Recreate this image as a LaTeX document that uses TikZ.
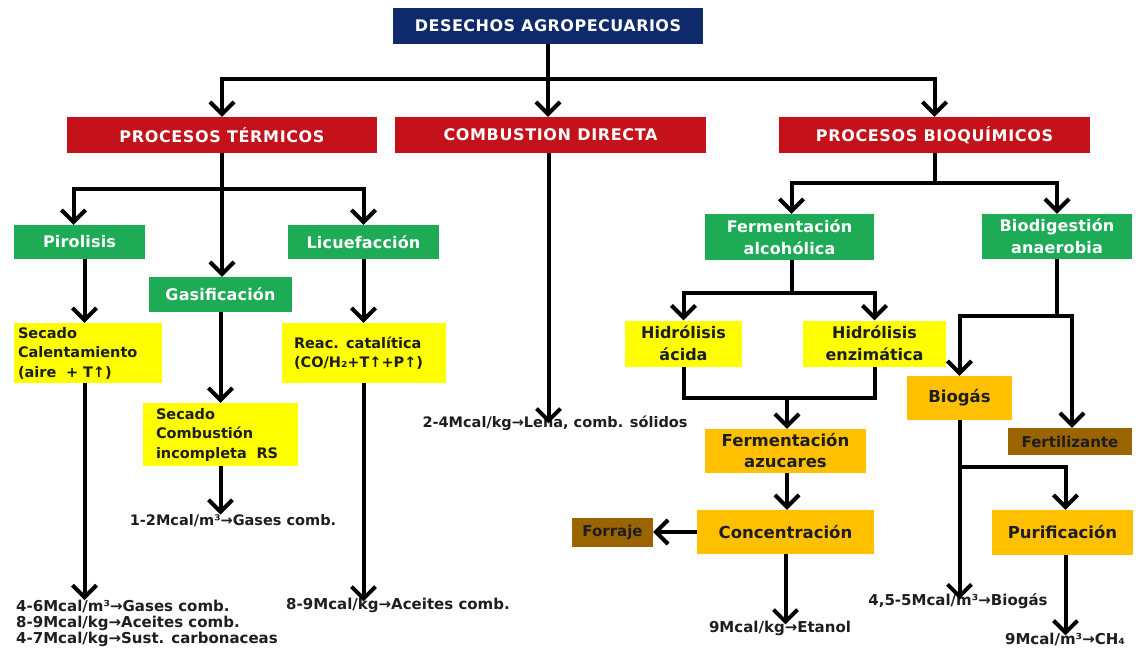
\documentclass[tikz,border=0pt]{standalone}
\usepackage{fontspec}
\setmainfont{DejaVu Sans}
\usetikzlibrary{arrows.meta}
\definecolor{cnavy}{HTML}{0E2A6A}
\definecolor{cred}{HTML}{C4111A}
\definecolor{cgreen}{HTML}{1DAB55}
\definecolor{cyel}{HTML}{FFFF00}
\definecolor{corange}{HTML}{FFC000}
\definecolor{cbrown}{HTML}{9A6400}
\definecolor{ink}{HTML}{1E1E1E}
\tikzset{
  base/.style={inner sep=0pt, align=center},
  navybox/.style={base, fill=cnavy, text=white, font=\bfseries\fontsize{16}{18}\selectfont\addfontfeature{LetterSpace=3}},
  hdrbox/.style={base, fill=cred, text=white, minimum height=36pt, font=\bfseries\fontsize{16}{18}\selectfont\addfontfeature{LetterSpace=4}},
  grn/.style={base, fill=cgreen, text=white, font=\bfseries\fontsize{16}{22}\selectfont\addfontfeature{LetterSpace=1}},
  yel/.style={base, fill=cyel, text=ink, font=\bfseries\fontsize{16}{22}\selectfont},
  yell/.style={base, fill=cyel, text=ink, align=left, font=\bfseries\fontsize{14.5}{19.5}\selectfont},
  org/.style={base, fill=corange, text=ink, font=\bfseries\fontsize{16.5}{21}\selectfont},
  brn/.style={base, fill=cbrown, text=ink, font=\bfseries\fontsize{15}{17}\selectfont},
  val/.style={inner sep=0pt, text=ink, font=\bfseries\fontsize{15}{16}\selectfont},
  vals/.style={val, font=\bfseries\fontsize{14.5}{15.5}\selectfont},
  ln/.style={line width=4pt, draw=black},
  arr/.style={ln, -{Straight Barb[length=12pt,width=24pt]}},
}
\begin{document}
\begin{tikzpicture}[x=1pt,y=-1pt]
\useasboundingbox (0,0) rectangle (1141,648);
% nodes
\node[navybox, minimum width=310pt, minimum height=36pt] (navy) at (548,26) {DESECHOS AGROPECUARIOS};
\node[hdrbox, minimum width=310pt] (pt) at (222,135) {PROCESOS TÉRMICOS};
\node[hdrbox, minimum width=311pt] (cd) at (550.5,135) {COMBUSTION DIRECTA};
\node[hdrbox, minimum width=311pt] (pb) at (934.5,135) {PROCESOS BIOQUÍMICOS};
\node[grn, minimum width=131pt, minimum height=34pt] (pir) at (79.5,242) {Pirolisis};
\node[grn, minimum width=143pt, minimum height=35pt] (gas) at (220.5,294.5) {Gasificación};
\node[grn, minimum width=151pt, minimum height=34pt] (lic) at (363.5,242) {Licuefacción};
\node[yell, inner xsep=4pt, text width=140pt, minimum height=60pt] (y1) at (88,353) {Secado\\Calentamiento\\(aire\ \ + T↑)};
\node[yell, inner xsep=13pt, text width=129pt, minimum height=63pt] (y2) at (220.5,434.5) {Secado\\Combustión\\incompleta\ \ RS};
\node[yell, inner xsep=12pt, text width=140pt, minimum height=60pt] (y3) at (364,353) {Reac. catalítica\\(CO/H₂+T↑+P↑)};
\node[grn, minimum width=169pt, minimum height=46pt] (fa) at (789.5,237) {Fermentación\\alcohólica};
\node[grn, minimum width=150pt, minimum height=45pt] (bd) at (1057,236.5) {Biodigestión\\anaerobia};
\node[yel, minimum width=117pt, minimum height=46pt] (ha) at (683.5,343.5) {Hidrólisis\\ácida};
\node[yel, minimum width=143pt, minimum height=46pt] (he) at (874.5,343.5) {Hidrólisis\\enzimática};
\node[org, minimum width=161pt, minimum height=44pt] (faz) at (785.5,451) {Fermentación\\azucares};
\node[org, minimum width=177pt, minimum height=44pt] (conc) at (785.5,532) {Concentración};
\node[brn, minimum width=81pt, minimum height=29pt] (forr) at (612.5,532) {Forraje};
\node[org, minimum width=105pt, minimum height=44pt] (biog) at (959.5,398) {Biogás};
\node[brn, minimum width=124pt, minimum height=27pt] (fert) at (1070,441.5) {Fertilizante};
\node[org, minimum width=141pt, minimum height=45pt] (pur) at (1062.5,532.5) {Purificación};
% value texts
\node[val, anchor=north west, align=left] (t1) at (16,600) {4-6Mcal/m³→Gases comb.\\8-9Mcal/kg→Aceites comb.\\4-7Mcal/kg→Sust. carbonaceas};
\node[vals] (t2) at (233,521) {1-2Mcal/m³→Gases comb.};
\node[val] (t3) at (398,605) {8-9Mcal/kg→Aceites comb.};
\node[vals] (t4) at (555,423) {2-4Mcal/kg→Leña, comb. sólidos};
\node[val] (t5) at (780,628) {9Mcal/kg→Etanol};
\node[val] (t6) at (958,601) {4,5-5Mcal/m³→Biogás};
\node[val] (t7) at (1065,639) {9Mcal/m³→CH₄};
% connectors: top level
\draw[ln] (navy.south) -- ++(0,35) coordinate (j0);
\draw[arr] (j0) -| (pt.north);
\draw[arr] (j0) -| (pb.north);
\draw[arr] (j0) -- (j0 |- cd.north);
% termicos
\draw[ln] (pt.south) -- ++(0,36) coordinate (j1);
\draw[arr] (j1) -| ([xshift=-6pt]pir.north);
\draw[arr] (j1) -| (lic.north);
\draw[arr] (j1) -- (j1 |- gas.north);
\draw[arr] ([xshift=5pt]pir.south) coordinate (a1) -- (a1 |- y1.north);
\draw[arr] (a1 |- y1.south) -- (a1 |- t1.north);
\draw[arr] (gas.south) -- (gas.south |- y2.north);
\draw[arr] (gas.south |- y2.south) -- (gas.south |- t2.north);
\draw[arr] (lic.south) -- (lic.south |- y3.north);
\draw[arr] (lic.south |- y3.south) -- ([yshift=-4pt]lic.south |- t3.north);
% combustion
\draw[arr] ([xshift=-2pt]cd.south) coordinate (a2) -- ([yshift=-8pt]a2 |- t4.north);
% bioquimicos
\draw[ln] (pb.south) -- ++(0,30) coordinate (j2);
\draw[arr] (j2) -| ([xshift=2pt]fa.north);
\draw[arr] (j2) -| (bd.north);
\draw[ln] ([xshift=2pt]fa.south) -- ++(0,33) coordinate (j3);
\draw[arr] (j3) -| (ha.north);
\draw[arr] (j3) -| (he.north);
\draw[ln] (ha.south) -- ++(0,31) coordinate (j4) -| (he.south);
\draw[arr] ([xshift=1.5pt]j4 -| faz.north) -- ([xshift=1.5pt]faz.north);
\draw[arr] ([xshift=1.5pt]faz.south) -- ([xshift=1.5pt]conc.north);
\draw[arr] (conc.west) -- (forr.east);
\draw[arr] (conc.south) -- ([yshift=-4pt]conc.south |- t5.north);
\draw[ln] (bd.south) -- ++(0,57) coordinate (j5);
\draw[arr] (j5) -| (biog.north);
\draw[arr] (j5) -| ([xshift=2pt]fert.north);
\draw[arr] (biog.south) -- ([yshift=-6pt]biog.south |- t6.north);
\path (biog.south) ++(0,47) coordinate (j6);
\draw[arr] (j6) -| ([xshift=3pt]pur.north);
\draw[arr] ([xshift=3pt]pur.south) coordinate (a3) -- ([yshift=-3pt]a3 |- t7.north);
\end{tikzpicture}
\end{document}
